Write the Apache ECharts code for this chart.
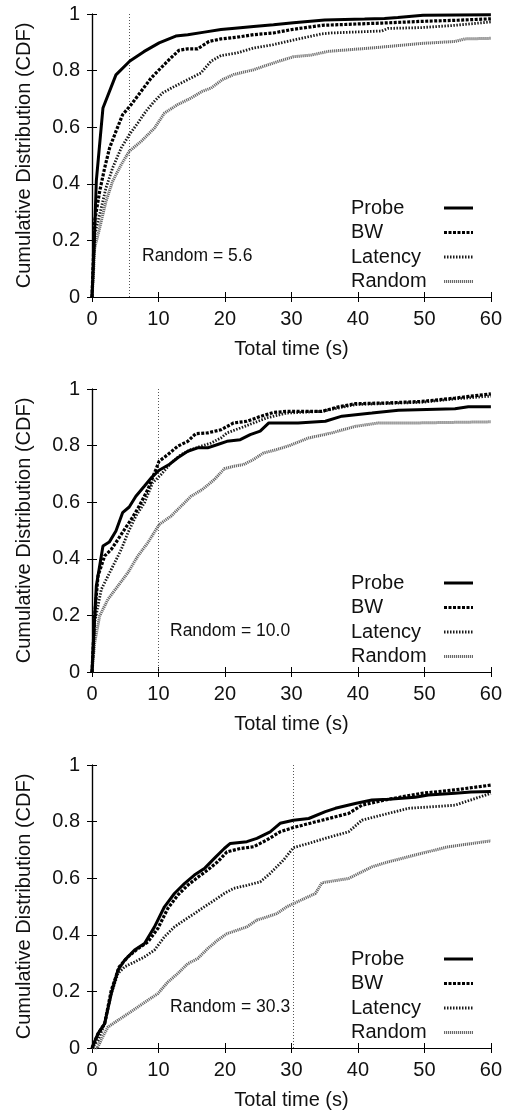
<!DOCTYPE html>
<html>
<head>
<meta charset="utf-8">
<script src="https://cdn.jsdelivr.net/npm/echarts@6/dist/echarts.min.js"></script>
<style>
html,body{margin:0;padding:0;background:#fff;}
#chart{width:505px;height:1111px;}
</style>
</head>
<body>
<div id="chart"></div>
<script>
// ---------- data ----------
const seriesNames = ['Probe', 'BW', 'Latency', 'Random'];
const xTicks = [0, 10, 20, 30, 40, 50, 60];
const yTicks = [0, 0.2, 0.4, 0.6, 0.8, 1];
const randomMarks = [5.6, 10.0, 30.3];
const annotations = ['Random = 5.6', 'Random = 10.0', 'Random = 30.3'];
const xTitle = 'Total time (s)';
const yTitle = 'Cumulative Distribution (CDF)';

// Panel 1
const probe1 = [[0,0],[0.35,0.2],[0.65,0.41],[1.65,0.668],[3.6,0.785],[5.7,0.834],[7.8,0.867],[10.1,0.898],[12.6,0.922],[14.4,0.927],[16.9,0.936],[19.4,0.945],[21.5,0.95],[24.3,0.956],[27.3,0.962],[30.3,0.969],[35,0.979],[41,0.982],[44,0.984],[46,0.988],[49.8,0.996],[60,0.997]];
const bw1 = [[0,0],[0.15,0.1],[0.4,0.267],[1.15,0.373],[1.9,0.456],[2.65,0.527],[3.6,0.585],[4.6,0.644],[5.9,0.68],[7.4,0.727],[8.9,0.774],[10.1,0.803],[11.6,0.839],[13.1,0.872],[14.4,0.877],[15.9,0.877],[17.6,0.903],[19.4,0.912],[21.8,0.918],[24.3,0.927],[27.3,0.933],[30,0.945],[34.6,0.96],[43.6,0.968],[49.6,0.974],[55,0.978],[60,0.983]];
const lat1 = [[0,0],[0.15,0.08],[0.4,0.22],[1.15,0.291],[2.1,0.385],[3.1,0.456],[4.4,0.527],[5.6,0.573],[6.9,0.615],[8.1,0.656],[9.4,0.692],[10.6,0.721],[12.4,0.744],[14.4,0.768],[16.4,0.792],[17.9,0.833],[19.4,0.853],[21.8,0.862],[24.3,0.88],[27.3,0.892],[30.3,0.908],[34.6,0.93],[36,0.933],[43.6,0.94],[44.5,0.949],[49.6,0.952],[54.6,0.96],[60,0.972]];
const rnd1 = [[0,0],[0.2,0.07],[0.4,0.173],[1.15,0.244],[2.1,0.338],[3.1,0.409],[4.4,0.468],[5.6,0.515],[7.4,0.55],[9.4,0.597],[10.9,0.65],[12.9,0.68],[14.9,0.703],[16.6,0.727],[17.9,0.738],[19.6,0.768],[21.3,0.786],[24.3,0.803],[27.3,0.827],[30.3,0.849],[33,0.855],[35.6,0.868],[42.1,0.88],[49.6,0.896],[54.6,0.903],[56.1,0.912],[60,0.914]];

// Panel 2
const probe2 = [[0,0],[0.3,0.15],[0.65,0.304],[1.65,0.445],[2.6,0.459],[3.6,0.498],[4.6,0.563],[5.6,0.583],[6.6,0.621],[7.9,0.657],[8.9,0.686],[10.1,0.713],[11.6,0.733],[12.9,0.757],[14.4,0.78],[15.9,0.792],[17.4,0.792],[18.9,0.804],[20.3,0.815],[22.3,0.821],[23.8,0.839],[25.3,0.851],[26.6,0.88],[31,0.88],[35.1,0.886],[37.6,0.904],[42.1,0.915],[46.1,0.925],[54.6,0.93],[56.6,0.937],[60,0.937]];
const bw2 = [[0,0],[0.2,0.1],[0.4,0.198],[0.9,0.339],[1.9,0.41],[2.9,0.433],[3.9,0.468],[4.9,0.504],[5.9,0.539],[7.1,0.586],[8.4,0.645],[9.6,0.715],[10.1,0.745],[11.4,0.768],[12.9,0.798],[14.4,0.815],[15.6,0.842],[17.4,0.845],[19.4,0.856],[21.3,0.88],[23.3,0.886],[25.3,0.903],[27.3,0.917],[29.3,0.921],[34.6,0.921],[37.1,0.937],[39.6,0.948],[44.6,0.951],[49.6,0.956],[54.6,0.968],[60,0.983]];
const lat2 = [[0,0],[0.2,0.08],[0.4,0.175],[1.4,0.292],[2.4,0.339],[3.4,0.386],[4.4,0.433],[5.4,0.492],[6.6,0.551],[7.9,0.598],[9.1,0.668],[10.4,0.698],[11.9,0.739],[13.4,0.768],[14.9,0.786],[16.4,0.798],[17.9,0.809],[19.4,0.827],[20.3,0.845],[22.3,0.862],[24.3,0.88],[26.3,0.898],[29.3,0.915],[34.6,0.921],[39.6,0.945],[49.6,0.953],[54.6,0.965],[60,0.975]];
const rnd2 = [[0,0],[0.4,0.104],[1.15,0.198],[2.4,0.257],[3.9,0.304],[5.4,0.351],[6.9,0.41],[8.4,0.457],[10.1,0.521],[11.9,0.551],[13.4,0.586],[14.9,0.621],[16.6,0.645],[18.4,0.68],[19.9,0.718],[21.3,0.727],[22.8,0.733],[24.3,0.751],[25.8,0.774],[27.8,0.786],[29.8,0.801],[32.6,0.827],[36.1,0.845],[39.6,0.868],[43.1,0.88],[48.6,0.88],[60,0.884]];

// Panel 3
const probe3 = [[0,0],[0.9,0.051],[1.9,0.086],[2.9,0.192],[3.9,0.275],[4.9,0.31],[6.4,0.346],[7.9,0.369],[9.4,0.428],[10.9,0.499],[12.4,0.546],[13.9,0.581],[15.4,0.611],[16.9,0.634],[18.4,0.67],[19.9,0.705],[20.8,0.723],[23.3,0.729],[24.8,0.741],[26.8,0.764],[28.3,0.794],[30.3,0.805],[32.6,0.811],[35.1,0.835],[36.6,0.847],[39.6,0.864],[42.1,0.876],[44.6,0.879],[48.6,0.886],[50.6,0.894],[54.6,0.9],[57,0.905],[60,0.906]];
const bw3 = [[0,0],[0.9,0.05],[1.9,0.086],[2.9,0.204],[4.1,0.287],[5.4,0.322],[6.9,0.351],[8.4,0.375],[9.9,0.422],[11.4,0.493],[12.9,0.54],[14.4,0.575],[15.9,0.603],[17.4,0.629],[18.9,0.658],[20.3,0.693],[22.3,0.705],[24.3,0.711],[26.3,0.735],[28.3,0.764],[30.3,0.779],[34.6,0.805],[38.6,0.829],[40.6,0.858],[44.6,0.879],[49.6,0.9],[54.6,0.912],[60,0.929]];
const lat3 = [[0,0],[0.9,0.027],[1.9,0.086],[2.9,0.192],[3.9,0.263],[4.9,0.287],[6.4,0.304],[7.9,0.322],[9.4,0.346],[10.9,0.393],[12.4,0.428],[13.9,0.452],[15.4,0.475],[16.9,0.499],[18.4,0.522],[19.9,0.546],[21.3,0.564],[23.3,0.575],[25.3,0.587],[26.8,0.617],[28.8,0.664],[30.3,0.708],[32.6,0.723],[35.1,0.741],[38.6,0.764],[40.6,0.805],[44.6,0.829],[47.6,0.847],[51.6,0.853],[54.6,0.858],[60,0.9]];
const rnd3 = [[0,0],[0.8,0],[1.6,0.039],[2.4,0.074],[3.9,0.098],[5.4,0.121],[6.9,0.145],[8.4,0.169],[9.9,0.192],[11.4,0.233],[12.9,0.263],[14.4,0.298],[15.9,0.316],[17.4,0.351],[18.9,0.381],[20.3,0.404],[21.8,0.416],[23.3,0.428],[24.8,0.452],[26.3,0.463],[27.8,0.475],[29.3,0.499],[30.3,0.51],[33.6,0.546],[34.6,0.584],[38.6,0.599],[42.1,0.64],[44.6,0.658],[49.6,0.688],[53.6,0.711],[60,0.732]];

const panels = [
  [probe1, bw1, lat1, rnd1],
  [probe2, bw2, lat2, rnd2],
  [probe3, bw3, lat3, rnd3]
];

// ---------- styles / layout ----------
const FONT = '"Liberation Sans", Arial, Helvetica, sans-serif';
const TXT = '#111';
const gridTops = [14, 389, 765];
const gridLeft = 92, gridW = 401, gridH = 283;
const annotLeft = [142, 170, 170];
const lineStyles = [
  { color: '#000', width: 3, type: 'solid' },
  { color: '#000', width: 3.2, type: [3, 1.5] },
  { color: '#1a1a1a', width: 2.8, type: [1.5, 1.5] },
  { color: '#6a6a6a', width: 3, type: [1.2, 0.8] }
];

const grids = [], xAxes = [], yAxes = [], series = [], legends = [], graphics = [];
panels.forEach((pdata, p) => {
  grids.push({ left: gridLeft, top: gridTops[p], width: gridW, height: gridH, show: false });
  const axisLine = { show: true, lineStyle: { color: '#000', width: 1.2 } };
  const tick = { show: true, inside: true, length: 5, lineStyle: { color: '#000', width: 1 } };
  xAxes.push({
    type: 'value', gridIndex: p, position: 'bottom', min: xTicks[0], max: xTicks[xTicks.length - 1], interval: 10,
    axisLine, axisTick: tick, splitLine: { show: false },
    axisLabel: { show: true, margin: 12, fontSize: 20, fontFamily: FONT, color: TXT, formatter: v => String(v) },
    name: xTitle, nameLocation: 'middle', nameGap: 42,
    nameTextStyle: { fontSize: 20, fontFamily: FONT, color: TXT }
  });
  xAxes.push({
    type: 'value', gridIndex: p, position: 'top', min: xTicks[0], max: xTicks[xTicks.length - 1], interval: 10,
    axisLine, axisTick: tick, splitLine: { show: false }, axisLabel: { show: false }
  });
  yAxes.push({
    type: 'value', gridIndex: p, position: 'left', min: 0, max: 1, interval: 0.2,
    axisLine, axisTick: tick, splitLine: { show: false },
    axisLabel: { show: true, margin: 12, fontSize: 20, fontFamily: FONT, color: TXT, formatter: v => String(+v.toFixed(1)) },
    name: yTitle, nameLocation: 'middle', nameGap: 58,
    nameTextStyle: { fontSize: 20, fontFamily: FONT, color: TXT }
  });
  yAxes.push({
    type: 'value', gridIndex: p, position: 'right', min: 0, max: 1, interval: 0.2,
    axisLine, axisTick: tick, splitLine: { show: false }, axisLabel: { show: false }
  });
  pdata.forEach((d, s) => {
    const ser = {
      type: 'line', name: seriesNames[s], data: d,
      xAxisIndex: 2 * p, yAxisIndex: 2 * p,
      symbol: 'none', showSymbol: false, smooth: false, clip: true,
      lineStyle: Object.assign({}, lineStyles[s]),
      itemStyle: { color: lineStyles[s].color },
      z: 10 - s
    };
    if (s === 0) {
      ser.markLine = {
        silent: true, symbol: ['none', 'none'], label: { show: false },
        lineStyle: { color: '#555', width: 1, type: [1, 2] },
        data: [{ xAxis: randomMarks[p] }]
      };
    }
    series.push(ser);
  });
  legends.push({
    orient: 'vertical', left: 346, top: gridTops[p] + gridH - 104,
    align: 'right', itemWidth: 29, itemHeight: 14, itemGap: 4.5,
    data: seriesNames, selectedMode: false,
    itemStyle: { opacity: 0 },
    lineStyle: { width: 3 },
    formatter: name => '{t|' + name + '}',
    textStyle: {
      fontSize: 20, fontFamily: FONT, color: TXT, lineHeight: 20,
      rich: { t: { width: 88, align: 'left', fontSize: 20, fontFamily: FONT, color: TXT, lineHeight: 20 } }
    }
  });
  graphics.push({
    type: 'text', left: annotLeft[p], top: gridTops[p] + gridH - 40 - 10,
    style: { text: annotations[p], font: '17.5px ' + FONT, fill: TXT }
  });
});

const chart = echarts.init(document.getElementById('chart'), null, { renderer: 'canvas' });
chart.setOption({
  animation: false,
  backgroundColor: '#fff',
  grid: grids, xAxis: xAxes, yAxis: yAxes, series, legend: legends,
  graphic: graphics
});
</script>
</body>
</html>
